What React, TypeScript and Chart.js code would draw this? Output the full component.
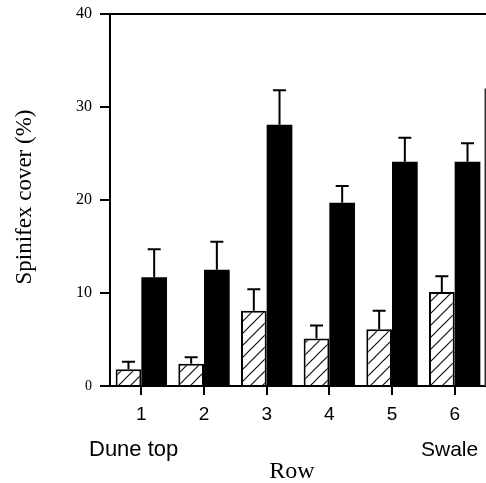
import React, { useEffect, useRef } from "react";
import { Chart, registerables } from "chart.js";

Chart.register(...registerables);

const categories = ["1", "2", "3", "4", "5", "6"];
const hatchedValues = [1.8, 2.4, 8.1, 5.1, 6.1, 10.1];
const hatchedErrors = [0.8, 0.7, 2.3, 1.4, 2.0, 1.7];
const solidValues = [11.7, 12.5, 28.1, 19.7, 24.1, 24.1];
const solidErrors = [3.0, 3.0, 3.7, 1.8, 2.6, 2.0];
const yTicks = [0, 10, 20, 30, 40];
const yTitle = "Spinifex cover (%)";
const xTitle = "Row";
const leftNote = "Dune top";
const rightNote = "Swale";

const SERIF = "'Liberation Serif', 'Times New Roman', serif";
const SANS = "'Liberation Sans', Arial, sans-serif";

function makeHatch(): CanvasPattern | string {
  const c = document.createElement("canvas");
  const s = 12;
  c.width = s;
  c.height = s;
  const g = c.getContext("2d");
  if (!g) return "#fff";
  g.fillStyle = "#fff";
  g.fillRect(0, 0, s, s);
  g.strokeStyle = "#111";
  g.lineWidth = 1.2;
  g.beginPath();
  g.moveTo(0, s);
  g.lineTo(s, 0);
  g.moveTo(-s / 2, s / 2);
  g.lineTo(s / 2, -s / 2);
  g.moveTo(s / 2, s + s / 2);
  g.lineTo(s + s / 2, s / 2);
  g.stroke();
  const p = g.createPattern(c, "repeat");
  return p || "#fff";
}

const errorBarPlugin = {
  id: "errorBars",
  afterDatasetsDraw(chart: any) {
    const ctx = chart.ctx;
    const yScale = chart.scales.y;
    const errs = [hatchedErrors, solidErrors];
    chart.data.datasets.forEach((ds: any, di: number) => {
      const meta = chart.getDatasetMeta(di);
      meta.data.forEach((bar: any, i: number) => {
        const v = ds.data[i];
        const top = yScale.getPixelForValue(v + errs[di][i]);
        const base = yScale.getPixelForValue(v);
        ctx.save();
        ctx.strokeStyle = "#000";
        ctx.lineWidth = 2;
        ctx.beginPath();
        ctx.moveTo(bar.x, base);
        ctx.lineTo(bar.x, top);
        ctx.moveTo(bar.x - 6.5, top);
        ctx.lineTo(bar.x + 6.5, top);
        ctx.stroke();
        ctx.restore();
      });
    });
  },
};

const textPlugin = {
  id: "extraText",
  afterDraw(chart: any) {
    const ctx = chart.ctx;
    const area = chart.chartArea;
    ctx.save();
    ctx.strokeStyle = "#000";
    ctx.lineWidth = 2;
    ctx.beginPath();
    ctx.moveTo(area.left - 10, area.top);
    ctx.lineTo(area.right, area.top);
    ctx.stroke();
    ctx.strokeStyle = "#333";
    ctx.lineWidth = 1.5;
    ctx.beginPath();
    ctx.moveTo(area.right - 0.75, chart.scales.y.getPixelForValue(32));
    ctx.lineTo(area.right - 0.75, area.bottom);
    ctx.stroke();

    ctx.fillStyle = "#000";
    ctx.textBaseline = "alphabetic";
    ctx.textAlign = "left";
    ctx.font = `22px ${SANS}`;
    ctx.fillText(leftNote, 89, 456);
    ctx.font = `21px ${SANS}`;
    ctx.fillText(rightNote, 421, 456);

    ctx.font = `24px ${SERIF}`;
    ctx.textAlign = "center";
    ctx.fillText(xTitle, 292, 478);

    ctx.translate(25, 197);
    ctx.rotate(-Math.PI / 2);
    ctx.font = `23px ${SERIF}`;
    ctx.textAlign = "center";
    ctx.textBaseline = "middle";
    ctx.fillText(yTitle, 0, 0);
    ctx.restore();
  },
};

export default function App() {
  const ref = useRef<HTMLCanvasElement | null>(null);

  useEffect(() => {
    if (!ref.current) return;
    const hatch = makeHatch();
    const chart = new Chart(ref.current, {
      type: "bar",
      data: {
        labels: categories,
        datasets: [
          {
            label: "Hatched",
            data: hatchedValues,
            backgroundColor: hatch as any,
            borderColor: "#000",
            borderWidth: 2,
            borderSkipped: "bottom",
            categoryPercentage: 0.82,
            barPercentage: 1,
          },
          {
            label: "Solid",
            data: solidValues,
            backgroundColor: "#000",
            borderColor: "#000",
            borderWidth: 0,
            categoryPercentage: 0.82,
            barPercentage: 1,
          },
        ],
      },
      options: {
        responsive: false,
        animation: false,
        layout: { padding: { top: 14, left: 0, right: 0, bottom: 0 } },
        plugins: {
          legend: { display: false },
          tooltip: { enabled: false },
          title: { display: false },
        },
        scales: {
          x: {
            grid: {
              offset: false,
              drawOnChartArea: false,
              drawTicks: true,
              tickLength: 9,
              color: "#000",
              lineWidth: 2,
            },
            border: { display: true, color: "#000", width: 2 },
            ticks: {
              color: "#000",
              font: { family: SANS, size: 19 },
              padding: 8,
            },
            afterFit(scale: any) {
              scale.height = 97;
              scale.paddingLeft = 0;
              scale.paddingRight = 0;
            },
          },
          y: {
            min: 0,
            max: 40,
            afterBuildTicks(scale: any) {
              scale.ticks = yTicks.map((v) => ({ value: v }));
            },
            grid: {
              drawOnChartArea: false,
              drawTicks: true,
              tickLength: 10,
              color: "#000",
              lineWidth: 2,
            },
            border: { display: true, color: "#000", width: 2 },
            ticks: {
              color: "#000",
              padding: 8,
              font: (c: any) => ({
                family: SERIF,
                size: c.tick && c.tick.value === 0 ? 14 : 16,
              }),
            },
            afterFit(scale: any) {
              scale.width = 110;
              scale.paddingTop = 0;
              scale.paddingBottom = 0;
            },
          },
        },
      },
      plugins: [errorBarPlugin, textPlugin],
    });
    return () => chart.destroy();
  }, []);

  return (
    <div style={{ position: "fixed", left: 0, top: 0, width: 486, height: 483, background: "#fff" }}>
      <canvas ref={ref} width={486} height={483} style={{ display: "block" }} />
    </div>
  );
}
